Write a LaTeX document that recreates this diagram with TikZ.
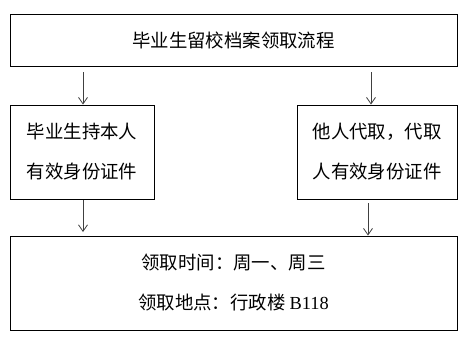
\documentclass[tikz,border=0pt]{standalone}
\usepackage{fontspec}
\newfontfamily\cjk{Noto Sans CJK SC}
\newfontfamily\latinserif{Liberation Serif}
\usetikzlibrary{arrows.meta}
\definecolor{arrowgrey}{HTML}{404040}
\tikzset{
  box/.style={draw=black, line width=0.9pt, rectangle, inner sep=0pt, align=center,
              font=\cjk\fontsize{18.4}{40}\selectfont},
  arr/.style={draw=arrowgrey, line width=0.8pt, -{Straight Barb[length=6.5pt,width=9pt]}}
}
\begin{document}
\begin{tikzpicture}[x=1pt,y=-1pt]
\useasboundingbox (0,0) rectangle (470,343);
\node[box, minimum width=447pt, minimum height=52pt] (top) at (233.5,40) {毕业生留校档案领取流程};
\node[box, minimum width=144pt, minimum height=94pt] (left) at (82,152) {毕业生持本人\\有效身份证件};
\node[box, minimum width=160pt, minimum height=94pt] (right) at (377,152) {他人代取，代取\\人有效身份证件};
\node[box, minimum width=447pt, minimum height=94pt] (bottom) at (233.5,283) {领取时间：周一、周三\\领取地点：行政楼 {\latinserif B118}};
\coordinate (a1) at (83,72);
\coordinate (a2) at (371,72);
\coordinate (b1) at (83,200);
\coordinate (b1e) at (83,232);
\coordinate (b2) at (368,203);
\draw[arr] (a1) -- (a1 |- left.north);
\draw[arr] (a2) -- (a2 |- right.north);
\draw[arr] (b1) -- (b1e);
\draw[arr] (b2) -- (b2 |- bottom.north);
\end{tikzpicture}
\end{document}
